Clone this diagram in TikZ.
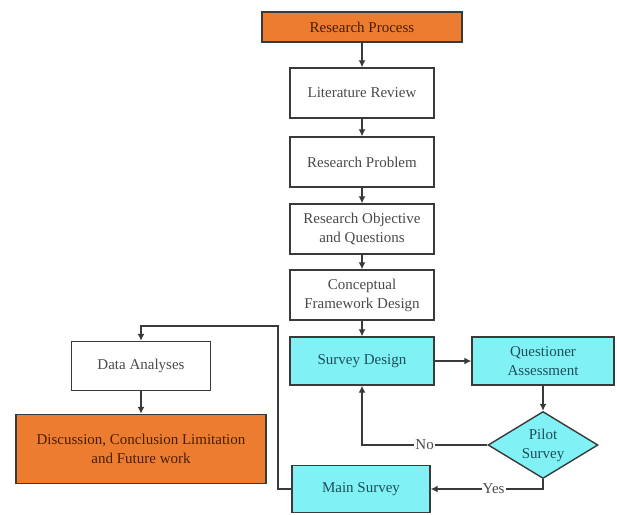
\documentclass[tikz,border=0pt]{standalone}
\usepackage{fontspec}
\setmainfont{Liberation Serif}
\newfontfamily\tnr{Liberation Serif}
\usetikzlibrary{shapes.geometric,arrows.meta}
\definecolor{orangefill}{HTML}{EC7C30}
\definecolor{cyanfill}{HTML}{80F2F6}
\definecolor{edgegray}{HTML}{3A3A3A}
\definecolor{txtgray}{HTML}{4A4A4A}
\definecolor{txtbrown}{HTML}{4A1E00}
\definecolor{txtteal}{HTML}{1E4E58}
\tikzset{
  base/.style={draw=edgegray, line width=1.4pt, align=center, inner sep=2pt,
    font=\tnr\fontsize{15}{19}\selectfont},
  whitebox/.style={base, fill=white, text=txtgray, minimum width=144pt, minimum height=50pt},
  orangebox/.style={base, fill=orangefill, text=txtbrown},
  cyanbox/.style={base, fill=cyanfill, text=txtteal, minimum height=48pt},
  decision/.style={base, diamond, fill=cyanfill, text=txtteal, aspect=1.64,
    minimum width=110pt, minimum height=67pt, inner sep=0pt},
  conn/.style={draw=edgegray, line width=1.3pt, -{Latex[length=7pt,width=7pt]}},
  lbl/.style={fill=white, text=txtgray, inner sep=1pt, font=\tnr\fontsize{15}{19}\selectfont}
}
\begin{document}
\begin{tikzpicture}[x=1pt,y=-1pt]
\useasboundingbox (0,0) rectangle (617,514);
\node[orangebox, minimum width=200pt, minimum height=30pt] (rp) at (362,27) {Research Process};
\node[whitebox] (lr) at (362,93) {Literature Review};
\node[whitebox] (pb) at (362,162) {Research Problem};
\node[whitebox] (ro) at (362,229) {Research Objective\\and Questions};
\node[whitebox] (cf) at (362,295) {Conceptual\\Framework Design};
\node[cyanbox, minimum width=144pt] (sd) at (362,361) {Survey Design};
\node[cyanbox, minimum width=142pt] (qa) at (543,361) {Questioner\\Assessment};
\node[decision] (ps) at (543,445) {Pilot\\Survey};
\node[cyanbox, minimum width=138pt, minimum height=47pt] (ms) at (361,489) {Main Survey};
\node[whitebox, minimum width=139pt, minimum height=49pt] (da) at (141,366) {Data Analyses};
\node[orangebox, minimum width=250pt, minimum height=69pt] (dc) at (141,449) {Discussion, Conclusion Limitation\\and Future work};
\coordinate (c1) at (278,489);
\coordinate (c2) at (278,326);
\coordinate (c3) at (141,326);
\draw[conn] (rp) -- (lr);
\draw[conn] (lr) -- (pb);
\draw[conn] (pb) -- (ro);
\draw[conn] (ro) -- (cf);
\draw[conn] (cf) -- (sd);
\draw[conn] (sd) -- (qa);
\draw[conn] (qa) -- (ps);
\draw[conn] (ps.west) -| node[lbl, pos=0.25] {No} (sd.south);
\draw[conn] (ps.south) |- node[lbl, pos=0.72] {Yes} (ms.east);
\draw[conn] (ms.west) -- (c1) -- (c2) -- (c3) -- (da.north);
\draw[conn] (da) -- (dc);
\end{tikzpicture}
\end{document}
